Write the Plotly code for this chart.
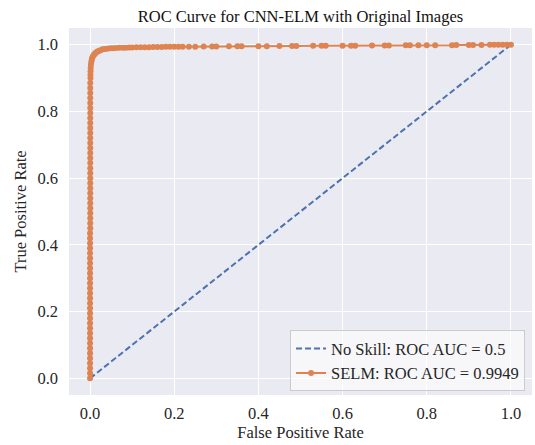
import plotly.graph_objects as go

# No-skill reference line
ns_fpr = [0.0, 1.0]
ns_tpr = [0.0, 1.0]

# Model ROC curve, 10 points per row, rows aligned between lists
fpr = [
    0, 0, 0, 0, 0, 0, 0, 0, 0, 0,
    0, 0, 0, 0, 0, 0, 0, 0, 0, 0,
    0, 0, 0, 0, 0, 0, 0, 0, 0, 0,
    0.0005, 0.0005, 0.0005, 0.0005, 0.0005, 0.0005, 0.0005, 0.0005, 0.0005, 0.0005,
    0.0005, 0.0005, 0.0005, 0.0005, 0.0005, 0.0005, 0.0005, 0.0005, 0.0005, 0.0005,
    0.0005, 0.0005, 0.0005, 0.0005, 0.0005, 0.0005, 0.0005, 0.0005, 0.0005, 0.0005,
    0.001, 0.001, 0.0012, 0.0015, 0.002, 0.003, 0.004, 0.005, 0.007, 0.009,
    0.011, 0.013, 0.016, 0.019, 0.022, 0.026, 0.03, 0.035, 0.041, 0.048,
    0.055, 0.062, 0.07, 0.078, 0.085, 0.093, 0.10, 0.11, 0.12, 0.13,
    0.14, 0.15, 0.16, 0.17, 0.18, 0.19, 0.20, 0.21, 0.22, 0.235,
    0.25, 0.27, 0.29, 0.30, 0.33, 0.35, 0.36, 0.40, 0.42, 0.45,
    0.48, 0.49, 0.53, 0.55, 0.56, 0.60, 0.62, 0.63, 0.67, 0.70,
    0.71, 0.75, 0.76, 0.78, 0.80, 0.82, 0.86, 0.87, 0.90, 0.91,
    0.93, 0.95, 0.96, 0.97, 0.98, 0.99, 1.0,
]
tpr = [
    0, 0.015, 0.03, 0.045, 0.06, 0.075, 0.09, 0.105, 0.12, 0.135,
    0.15, 0.165, 0.18, 0.195, 0.21, 0.225, 0.24, 0.255, 0.27, 0.285,
    0.30, 0.315, 0.33, 0.345, 0.36, 0.375, 0.39, 0.405, 0.42, 0.435,
    0.45, 0.465, 0.48, 0.495, 0.51, 0.525, 0.54, 0.555, 0.57, 0.585,
    0.60, 0.615, 0.63, 0.645, 0.66, 0.675, 0.69, 0.705, 0.72, 0.735,
    0.75, 0.765, 0.78, 0.795, 0.81, 0.825, 0.84, 0.855, 0.87, 0.885,
    0.90, 0.91, 0.92, 0.93, 0.94, 0.948, 0.955, 0.96, 0.965, 0.969,
    0.972, 0.975, 0.978, 0.98, 0.982, 0.984, 0.986, 0.987, 0.988, 0.989,
    0.9895, 0.990, 0.9905, 0.991, 0.991, 0.9915, 0.9915, 0.992, 0.992, 0.9925,
    0.9925, 0.993, 0.993, 0.993, 0.9935, 0.9935, 0.9935, 0.994, 0.994, 0.994,
    0.994, 0.9945, 0.9945, 0.9945, 0.995, 0.995, 0.995, 0.9955, 0.9955, 0.996,
    0.996, 0.996, 0.9965, 0.9965, 0.9965, 0.997, 0.997, 0.997, 0.9975, 0.9975,
    0.9975, 0.998, 0.998, 0.998, 0.9985, 0.9985, 0.9985, 0.999, 0.999, 0.999,
    0.999, 0.9995, 0.9995, 0.9995, 1.0, 1.0, 1.0,
]

tick_vals = [0.0, 0.2, 0.4, 0.6, 0.8, 1.0]
tick_text = ["0.0", "0.2", "0.4", "0.6", "0.8", "1.0"]

FONT = "Liberation Serif, Times New Roman, serif"
FS = 16.5

fig = go.Figure()
fig.add_trace(go.Scatter(x=ns_fpr, y=ns_tpr, mode="lines",
                         line=dict(color="#4C72B0", width=2, dash="6px,3px"),
                         name="No Skill: ROC AUC = 0.5"))
fig.add_trace(go.Scatter(x=fpr, y=tpr, mode="lines+markers",
                         line=dict(color="#DD8452", width=2),
                         marker=dict(color="#DD8452", size=6),
                         name="SELM: ROC AUC = 0.9949"))

fig.update_layout(
    width=535, height=445,
    margin=dict(l=69, r=3, t=28, b=50),
    paper_bgcolor="white", plot_bgcolor="#EAEAF2",
    font=dict(family=FONT, size=FS, color="#262626"),
    title=dict(text="ROC Curve for CNN-ELM with Original Images", x=0.5, xanchor="center",
               xref="paper", y=1 - 16 / 445, yanchor="middle", yref="container",
               font=dict(family=FONT, size=FS, color="#111111")),
    legend=dict(x=0.985, y=0.01, xanchor="right", yanchor="bottom",
                bgcolor="rgba(255,255,255,0.6)", bordercolor="#CCCCCC", borderwidth=1,
                font=dict(family=FONT, size=FS, color="#262626"),
                tracegroupgap=0),
    showlegend=True,
)
fig.update_xaxes(range=[-0.05, 1.05], tickvals=tick_vals, ticktext=tick_text,
                 showgrid=True, gridcolor="white", gridwidth=1.3, zeroline=False,
                 showline=False, ticks="", ticklabelstandoff=6,
                 title=dict(text="False Positive Rate", standoff=4,
                            font=dict(family=FONT, size=FS)),
                 tickfont=dict(family=FONT, size=FS))
fig.update_yaxes(range=[-0.05, 1.05], tickvals=tick_vals, ticktext=tick_text,
                 showgrid=True, gridcolor="white", gridwidth=1.3, zeroline=False,
                 showline=False, ticks="", ticklabelstandoff=10,
                 title=dict(text="True Positive Rate", standoff=6,
                            font=dict(family=FONT, size=FS)),
                 tickfont=dict(family=FONT, size=FS))

fig.write_html("out.html")
